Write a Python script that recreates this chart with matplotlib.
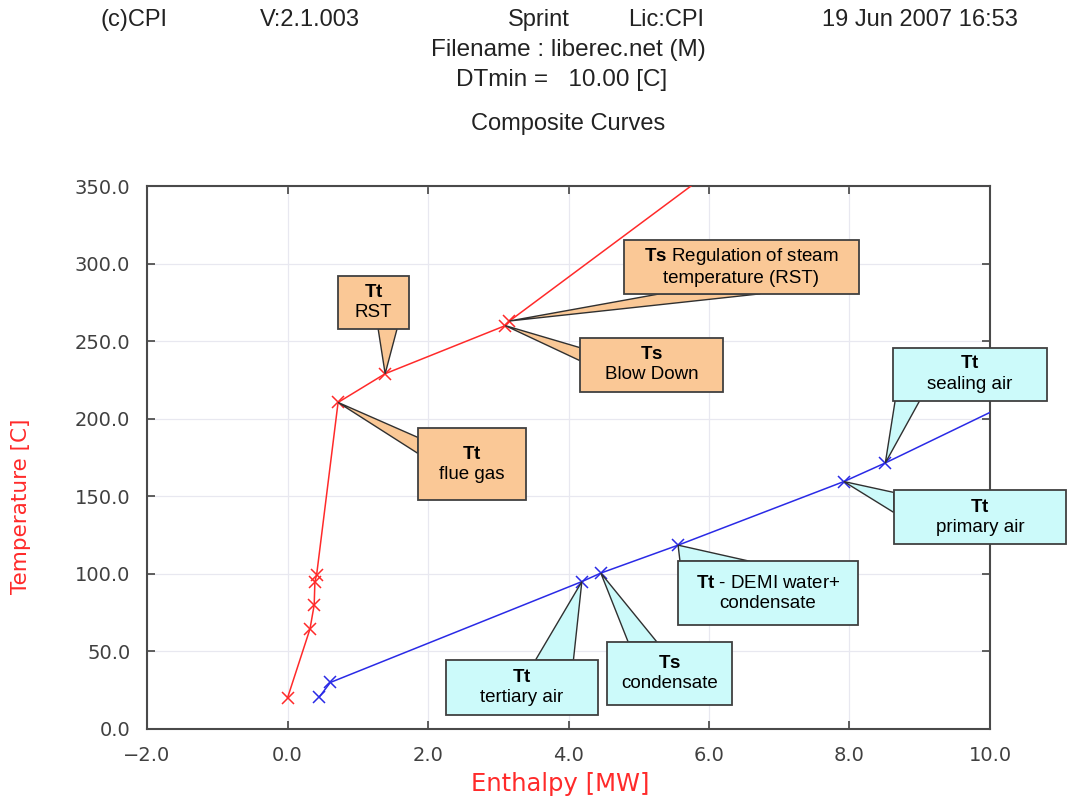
import matplotlib
matplotlib.use('Agg')
import matplotlib.pyplot as plt
from matplotlib.patches import Rectangle, Polygon

# hot composite curve (red)
hot_H = [0.00, 0.32, 0.38, 0.39, 0.415, 0.72, 1.39, 3.10, 3.16, 6.10]
hot_T = [20.0, 64.5, 80.0, 95.0, 99.5, 210.5, 229.0, 260.0, 263.0, 362.0]

# cold composite curve (blue)
cold_H = [0.45, 0.61, 4.19, 4.46, 5.56, 7.92, 8.51, 10.50]
cold_T = [20.5, 30.0, 95.0, 100.5, 118.5, 159.5, 171.5, 215.0]

x_ticks = [-2.0, 0.0, 2.0, 4.0, 6.0, 8.0, 10.0]
y_ticks = [0.0, 50.0, 100.0, 150.0, 200.0, 250.0, 300.0, 350.0]

header_items = ['(c)CPI', 'V:2.1.003', 'Sprint', 'Lic:CPI', '19 Jun 2007 16:53']
sub_headers = ['Filename : liberec.net (M)', 'DTmin =   10.00 [C]']
chart_title = 'Composite Curves'

# callout labels: text, curve, point index
callout_texts = [
    (r'$\mathbf{Tt}$' + '\nRST', 'hot', 6),
    (r'$\mathbf{Ts}$ Regulation of steam' + '\ntemperature (RST)', 'hot', 8),
    (r'$\mathbf{Ts}$' + '\nBlow Down', 'hot', 7),
    (r'$\mathbf{Tt}$' + '\nflue gas', 'hot', 5),
    (r'$\mathbf{Tt}$' + '\nsealing air', 'cold', 6),
    (r'$\mathbf{Tt}$' + '\nprimary air', 'cold', 5),
    (r'$\mathbf{Tt}$ - DEMI water+' + '\ncondensate', 'cold', 4),
    (r'$\mathbf{Ts}$' + '\ncondensate', 'cold', 3),
    (r'$\mathbf{Tt}$' + '\ntertiary air', 'cold', 2),
]

# layout of the callout boxes (x0, x1, y0, y1) and pointer bases, data units
callout_boxes = [
    (0.72, 1.73, 258.0, 292.1),
    (4.79, 8.135, 280.5, 315.3),
    (4.164, 6.199, 217.5, 252.2),
    (1.858, 3.395, 147.3, 193.7),
    (8.62, 10.81, 211.7, 245.8),
    (8.63, 11.08, 119.0, 153.8),
    (5.559, 8.121, 66.9, 108.1),
    (4.548, 6.327, 15.4, 56.0),
    (2.256, 4.420, 9.0, 44.4),
]
callout_bases = [
    [(1.29, 258.0), (1.56, 258.0)],
    [(5.30, 280.5), (6.73, 280.5)],
    [(4.164, 245.8), (4.164, 237.4)],
    [(1.858, 187.9), (1.858, 177.6)],
    [(8.65, 211.7), (9.00, 211.7)],
    [(8.63, 152.5), (8.63, 139.6)],
    [(5.587, 108.1), (6.583, 108.1)],
    [(4.85, 56.0), (5.26, 56.0)],
    [(3.53, 44.4), (4.07, 44.4)],
]

plt.rcParams['mathtext.fontset'] = 'custom'
plt.rcParams['mathtext.rm'] = 'Liberation Sans'
plt.rcParams['mathtext.bf'] = 'Liberation Sans:bold'

red = '#ff2a2a'
blue = '#2a2ae6'
orange_fill = '#fac896'
cyan_fill = '#ccfafa'
box_font = ['Liberation Sans', 'DejaVu Sans']
head_font = ['Liberation Sans', 'DejaVu Sans']

fig = plt.figure(figsize=(10.68, 8.08), dpi=100)
ax = fig.add_axes([147 / 1068, 1 - 729 / 808, 843 / 1068, 543 / 808])

ax.plot(hot_H, hot_T, color=red, lw=1.1, marker='x', ms=8, mew=1.1, zorder=3)
ax.plot(cold_H, cold_T, color=blue, lw=1.1, marker='x', ms=8, mew=1.1, zorder=3)

ax.set_xlim(-2, 10)
ax.set_ylim(0, 350)
ax.set_xticks(x_ticks)
ax.set_yticks(y_ticks)
ax.set_xticklabels([f'{v:.1f}'.replace('-', '\u2212') for v in x_ticks])
ax.set_yticklabels([f'{v:.1f}' for v in y_ticks])
ax.tick_params(direction='in', length=6, width=1.2, color='#444444',
               top=True, right=True, labelsize=14, labelcolor='#404040', pad=12)
for sp in ax.spines.values():
    sp.set_color('#4a4a4a')
    sp.set_linewidth(1.5)
ax.grid(True, color='#e8e8f0', lw=0.9)
ax.set_axisbelow(True)

ax.set_xlabel('Enthalpy [MW]', color=red, fontsize=17.5)
ax.xaxis.set_label_coords(0.49, -0.080)
ax.set_ylabel('Temperature [C]', color=red, fontsize=15.5, va='center')
ax.yaxis.set_label_coords(-0.150, 0.41)

# callouts
for (txt, curve, idx), (x0, x1, y0, y1), base in zip(callout_texts, callout_boxes, callout_bases):
    if curve == 'hot':
        tip = (hot_H[idx], hot_T[idx])
        fill = orange_fill
    else:
        tip = (cold_H[idx], cold_T[idx])
        fill = cyan_fill
    ax.add_patch(Polygon([base[0], tip, base[1]], closed=True, facecolor=fill,
                         edgecolor='#303030', lw=1.0, zorder=4, clip_on=False))
    ax.add_patch(Rectangle((x0, y0), x1 - x0, y1 - y0, facecolor=fill,
                           edgecolor='#404040', lw=1.3, zorder=5, clip_on=False))
    ax.text((x0 + x1) / 2, (y0 + y1) / 2, txt, ha='center', va='center',
            fontsize=13.5, family=box_font, linespacing=1.25, zorder=6, clip_on=False)

# header lines
header_x = [100, 260, 508, 628, 822]
for s, hx in zip(header_items, header_x):
    fig.text(hx / 1068, 1 - 20 / 808, s, ha='left', va='center', fontsize=17,
             family=head_font, color='#222222')
fig.text(568 / 1068, 1 - 50 / 808, sub_headers[0], ha='center', va='center',
         fontsize=17.5, family=head_font, color='#222222')
fig.text(562 / 1068, 1 - 80 / 808, sub_headers[1], ha='center', va='center',
         fontsize=17.5, family=head_font, color='#222222')
fig.text(568 / 1068, 1 - 124 / 808, chart_title, ha='center', va='center',
         fontsize=17, family=head_font, color='#222222')

fig.savefig('out.png', dpi=100)
